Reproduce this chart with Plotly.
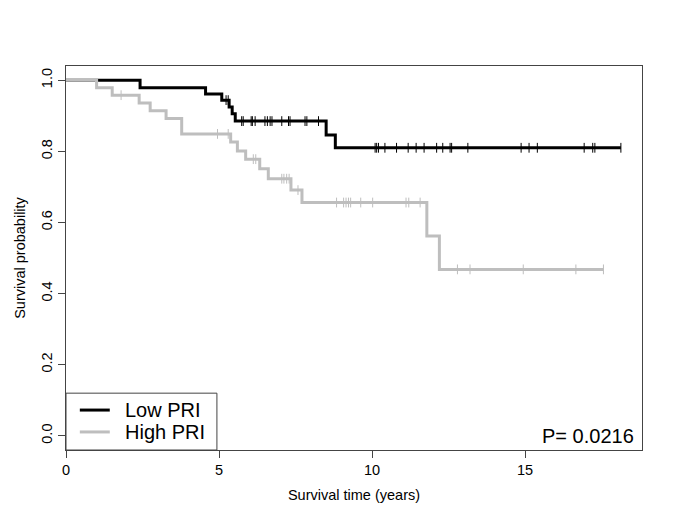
import numpy as np
import plotly.graph_objects as go

# ---- data (Kaplan-Meier step curves) ----
low_times = [0, 2.42, 4.56, 5.09, 5.33, 5.43, 5.53, 8.50, 8.80, 18.13]
low_surv = [1.0, 0.979, 0.961, 0.944, 0.925, 0.906, 0.885, 0.846, 0.810, 0.810]
low_censor = [5.23, 5.30, 5.74, 5.79, 6.05, 6.09, 6.18, 6.50, 6.58, 6.67, 6.73,
              7.05, 7.27, 7.32, 7.81, 7.87, 8.25,
              10.10, 10.15, 10.21, 10.42, 10.80, 11.18, 11.44, 11.70, 12.11,
              12.31, 12.55, 12.60, 13.13, 14.87, 15.13, 15.40, 16.93, 17.21,
              17.28, 18.13]

high_times = [0, 1.00, 1.51, 2.39, 2.75, 3.27, 3.78, 5.38, 5.60, 5.87, 6.33,
              6.61, 7.35, 7.71, 11.79, 12.20, 17.56]
high_surv = [1.0, 0.979, 0.958, 0.936, 0.914, 0.892, 0.849, 0.826, 0.801,
             0.778, 0.751, 0.723, 0.691, 0.656, 0.562, 0.468, 0.468]
high_censor = [1.80, 4.95, 5.30, 6.12, 6.20, 7.05, 7.12, 7.21, 7.29, 7.58,
               8.84, 9.07, 9.15, 9.23, 9.30, 9.63, 10.02, 11.11, 11.20, 11.57,
               12.79, 13.20, 14.94, 16.66, 17.56]

group_names = ["Low PRI", "High PRI"]
p_value_text = "P= 0.0216"
x_ticks = [0, 5, 10, 15]
y_ticks = [0.0, 0.2, 0.4, 0.6, 0.8, 1.0]

BLACK = "#000000"
GREY = "#BEBEBE"


def surv_at(times, surv, t):
    idx = np.searchsorted(np.array(times), np.array(t), side="right") - 1
    return list(np.array(surv)[idx])


fig = go.Figure()
for times, surv, cens, color, name in [
    (low_times, low_surv, low_censor, BLACK, group_names[0]),
    (high_times, high_surv, high_censor, GREY, group_names[1]),
]:
    fig.add_trace(go.Scatter(x=times, y=surv, mode="lines", name=name,
                             line=dict(shape="hv", color=color, width=3),
                             showlegend=False, hoverinfo="skip"))
    fig.add_trace(go.Scatter(x=cens, y=surv_at(times, surv, cens), mode="markers",
                             marker=dict(symbol="line-ns", size=7,
                                         line=dict(color=color, width=1)),
                             showlegend=False, hoverinfo="skip"))

# manual legend in R style (box at bottom-left of plotting region)
fig.add_shape(type="rect", xref="paper", yref="paper", x0=0, x1=0.262, y0=0, y1=0.148,
              line=dict(color="#444444", width=1), fillcolor="white", layer="below")
for i, (name, color) in enumerate(zip(group_names, [BLACK, GREY])):
    yy = 0.104 - i * 0.057
    fig.add_shape(type="line", xref="paper", yref="paper", x0=0.024, x1=0.076,
                  y0=yy, y1=yy, line=dict(color=color, width=3))
    fig.add_annotation(xref="paper", yref="paper", x=0.099, y=yy, text=name,
                       showarrow=False, xanchor="left", yanchor="middle",
                       font=dict(size=20, color="black"))

fig.add_annotation(xref="paper", yref="y", x=1, y=0.0, xshift=-6, text=p_value_text,
                   showarrow=False, xanchor="right", yanchor="middle",
                   font=dict(size=20, color="black"))

axis_common = dict(showline=True, mirror=True, linecolor="#444444", linewidth=1,
                   ticks="outside", ticklen=7, tickcolor="#444444", showgrid=False,
                   zeroline=False, tickfont=dict(size=14.5, color="black"))
fig.update_xaxes(range=[0, 18.82], tickvals=x_ticks, ticktext=[str(v) for v in x_ticks],
                 title=dict(text="Survival time (years)", font=dict(size=14.5, color="black"),
                            standoff=12), **axis_common)
fig.update_yaxes(range=[-0.04, 1.04], tickvals=y_ticks,
                 ticktext=[f"{v:.1f}" for v in y_ticks], tickangle=-90,
                 title=dict(text="Survival probability", font=dict(size=14.5, color="black"),
                            standoff=10), **axis_common)
# the page body adds an 8 px offset, so the figure is drawn 8 px smaller
fig.update_layout(width=677, height=521, margin=dict(l=58, r=43, t=58, b=79),
                  plot_bgcolor="white", paper_bgcolor="white",
                  font=dict(family="Liberation Sans, Arial, sans-serif", color="black"))
fig.write_html("out.html")
